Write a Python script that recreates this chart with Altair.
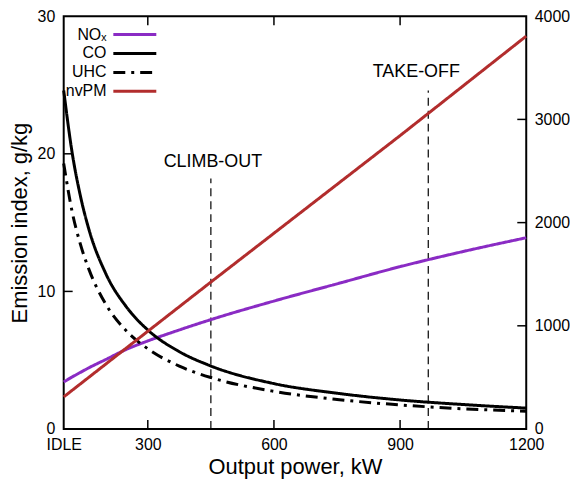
import altair as alt
import pandas as pd

# ---- data ----
power = [100, 120, 140, 160, 200, 250, 300, 375, 450, 600, 750, 900, 1050, 1200]
nox = [3.42, 3.78, 4.12, 4.45, 5.05, 5.8, 6.4, 7.2, 7.95, 9.3, 10.55, 11.8, 12.9, 13.9]
co = [24.6, 20.1, 16.9, 14.5, 11.3, 8.84, 7.2, 5.62, 4.58, 3.3, 2.6, 2.11, 1.78, 1.52]
uhc = [19.3, 15.8, 13.4, 11.6, 9.07, 7.1, 5.83, 4.57, 3.74, 2.74, 2.15, 1.75, 1.47, 1.29]

pm_power = [100, 300, 450, 900, 1200]
nvpm = [311, 947, 1424, 2843, 3807]

species = ["NOₓ", "CO", "UHC", "nvPM"]
colors = ["#8a2bc4", "#000000", "#000000", "#b22d2d"]
dashes = [[1, 0], [1, 0], [12, 6, 3, 6], [1, 0]]

events = ["CLIMB-OUT", "TAKE-OFF"]
event_power = [450, 967]
event_top = [18.2, 24.6]

x_ticks = [100, 300, 600, 900, 1200]
inner_x_ticks = [300, 600, 900]
left_ticks = [10, 20]
right_ticks = [1000, 2000, 3000]

W, H = 465, 415
FONT = "Liberation Sans"
TICK = 9

rows = []
for p, a, b, c in zip(power, nox, co, uhc):
    rows.append({"power": p, "value": a, "species": species[0]})
    rows.append({"power": p, "value": b, "species": species[1]})
    rows.append({"power": p, "value": c, "species": species[2]})
left_df = pd.DataFrame(rows)
pm_df = pd.DataFrame({"power": pm_power, "value": nvpm, "species": species[3]})
ev_df = pd.DataFrame({"event": events, "power": event_power, "top": event_top, "zero": 0})

xscale = alt.Scale(domain=[100, 1200], nice=False, zero=False)
common = dict(grid=False, domain=False, tickSize=0,
              labelFont=FONT, titleFont=FONT, labelColor="black", titleColor="black",
              labelFontSize=16, titleFontSize=22, titleFontWeight="normal")
x_axis = alt.Axis(values=x_ticks, title="Output power, kW", format="d", labelFlush=False,
                  labelExpr="datum.value == 100 ? 'IDLE' : datum.label",
                  labelPadding=8, titlePadding=4, **common)

lscale = alt.Scale(domain=[0, 30], nice=False)
rscale = alt.Scale(domain=[0, 4000], nice=False)
l_axis = alt.Axis(values=[0, 10, 20, 30], title="Emission index, g/kg", format="d",
                  labelPadding=9, titlePadding=6, **common)
r_axis = alt.Axis(orient="right", values=[0, 1000, 2000, 3000, 4000], title=None, format="d",
                  labelPadding=8, **common)

def X(field):
    return alt.X(field, type="quantitative", scale=xscale, axis=x_axis, title="Output power, kW")

def YL(field):
    return alt.Y(field, type="quantitative", scale=lscale, axis=l_axis, title="Emission index, g/kg")

color = alt.Color("species:N", scale=alt.Scale(domain=species, range=colors),
                  legend=alt.Legend(title=None, orient="none", legendX=0, legendY=9,
                                    labelAlign="right", symbolOffset=62,
                                    labelOffset={"expr": "-38"}, rowPadding=1,
                                    symbolType="M-2.7,0L2.7,0", symbolSize=256,
                                    symbolStrokeWidth=3,
                                    labelFontSize=16, labelFont=FONT, labelColor="black"))
dash = alt.StrokeDash("species:N", scale=alt.Scale(domain=species, range=dashes), legend=None)

lines_left = alt.Chart(left_df).mark_line(strokeWidth=3, interpolate="monotone").encode(
    x=X("power"), y=YL("value"), color=color, strokeDash=dash, detail="species:N")

ev_rules = alt.Chart(ev_df).mark_rule(color="black", strokeWidth=1.2, strokeDash=[8, 5]).encode(
    x=X("power"), y=YL("zero"), y2="top:Q")

ev_text1 = alt.Chart(ev_df).transform_filter(alt.datum.event == events[0]).mark_text(
    baseline="bottom", dy=-8, dx=2, fontSize=18, font=FONT, color="black").encode(
    x=X("power"), y=YL("top"), text="event:N")
ev_text2 = alt.Chart(ev_df).transform_filter(alt.datum.event == events[1]).mark_text(
    baseline="bottom", dy=-10, dx=-12, fontSize=18, font=FONT, color="black").encode(
    x=X("power"), y=YL("top"), text="event:N")

left_group = alt.layer(ev_rules, lines_left, ev_text1, ev_text2)

pm_line = alt.Chart(pm_df).mark_line(strokeWidth=3).encode(
    x=alt.X("power:Q", scale=xscale, axis=None),
    y=alt.Y("value:Q", scale=rscale, axis=r_axis, title=None),
    color=color, strokeDash=dash)

# inward ticks, each on its own (independent, axis-less) scales
xt_df = pd.DataFrame({"p": inner_x_ticks})
bottom_ticks = alt.Chart(xt_df).mark_rule(color="black", strokeWidth=1.5).encode(
    x=alt.X("p:Q", scale=xscale, axis=None), y=alt.value(H), y2=alt.value(H - TICK))
top_ticks = alt.Chart(xt_df).mark_rule(color="black", strokeWidth=1.5).encode(
    x=alt.X("p:Q", scale=xscale, axis=None), y=alt.value(0), y2=alt.value(TICK))
tick_x = alt.layer(bottom_ticks, top_ticks)

lt_df = pd.DataFrame({"v": left_ticks})
tick_left = alt.Chart(lt_df).mark_rule(color="black", strokeWidth=1.5).encode(
    y=alt.Y("v:Q", scale=lscale, axis=None), x=alt.value(0), x2=alt.value(TICK))
rt_df = pd.DataFrame({"v": right_ticks})
tick_right = alt.Chart(rt_df).mark_rule(color="black", strokeWidth=1.5).encode(
    y=alt.Y("v:Q", scale=rscale, axis=None), x=alt.value(W - TICK), x2=alt.value(W))

chart = alt.layer(left_group, pm_line, tick_x, tick_left, tick_right).resolve_scale(
    y="independent", x="independent").properties(
    width=W, height=H, padding={"left": 0, "top": -1, "right": 0, "bottom": 0}
).configure(background="white").configure_view(stroke="black", strokeWidth=2)

chart.save("out.html", embed_options={"renderer": "svg", "actions": False})
